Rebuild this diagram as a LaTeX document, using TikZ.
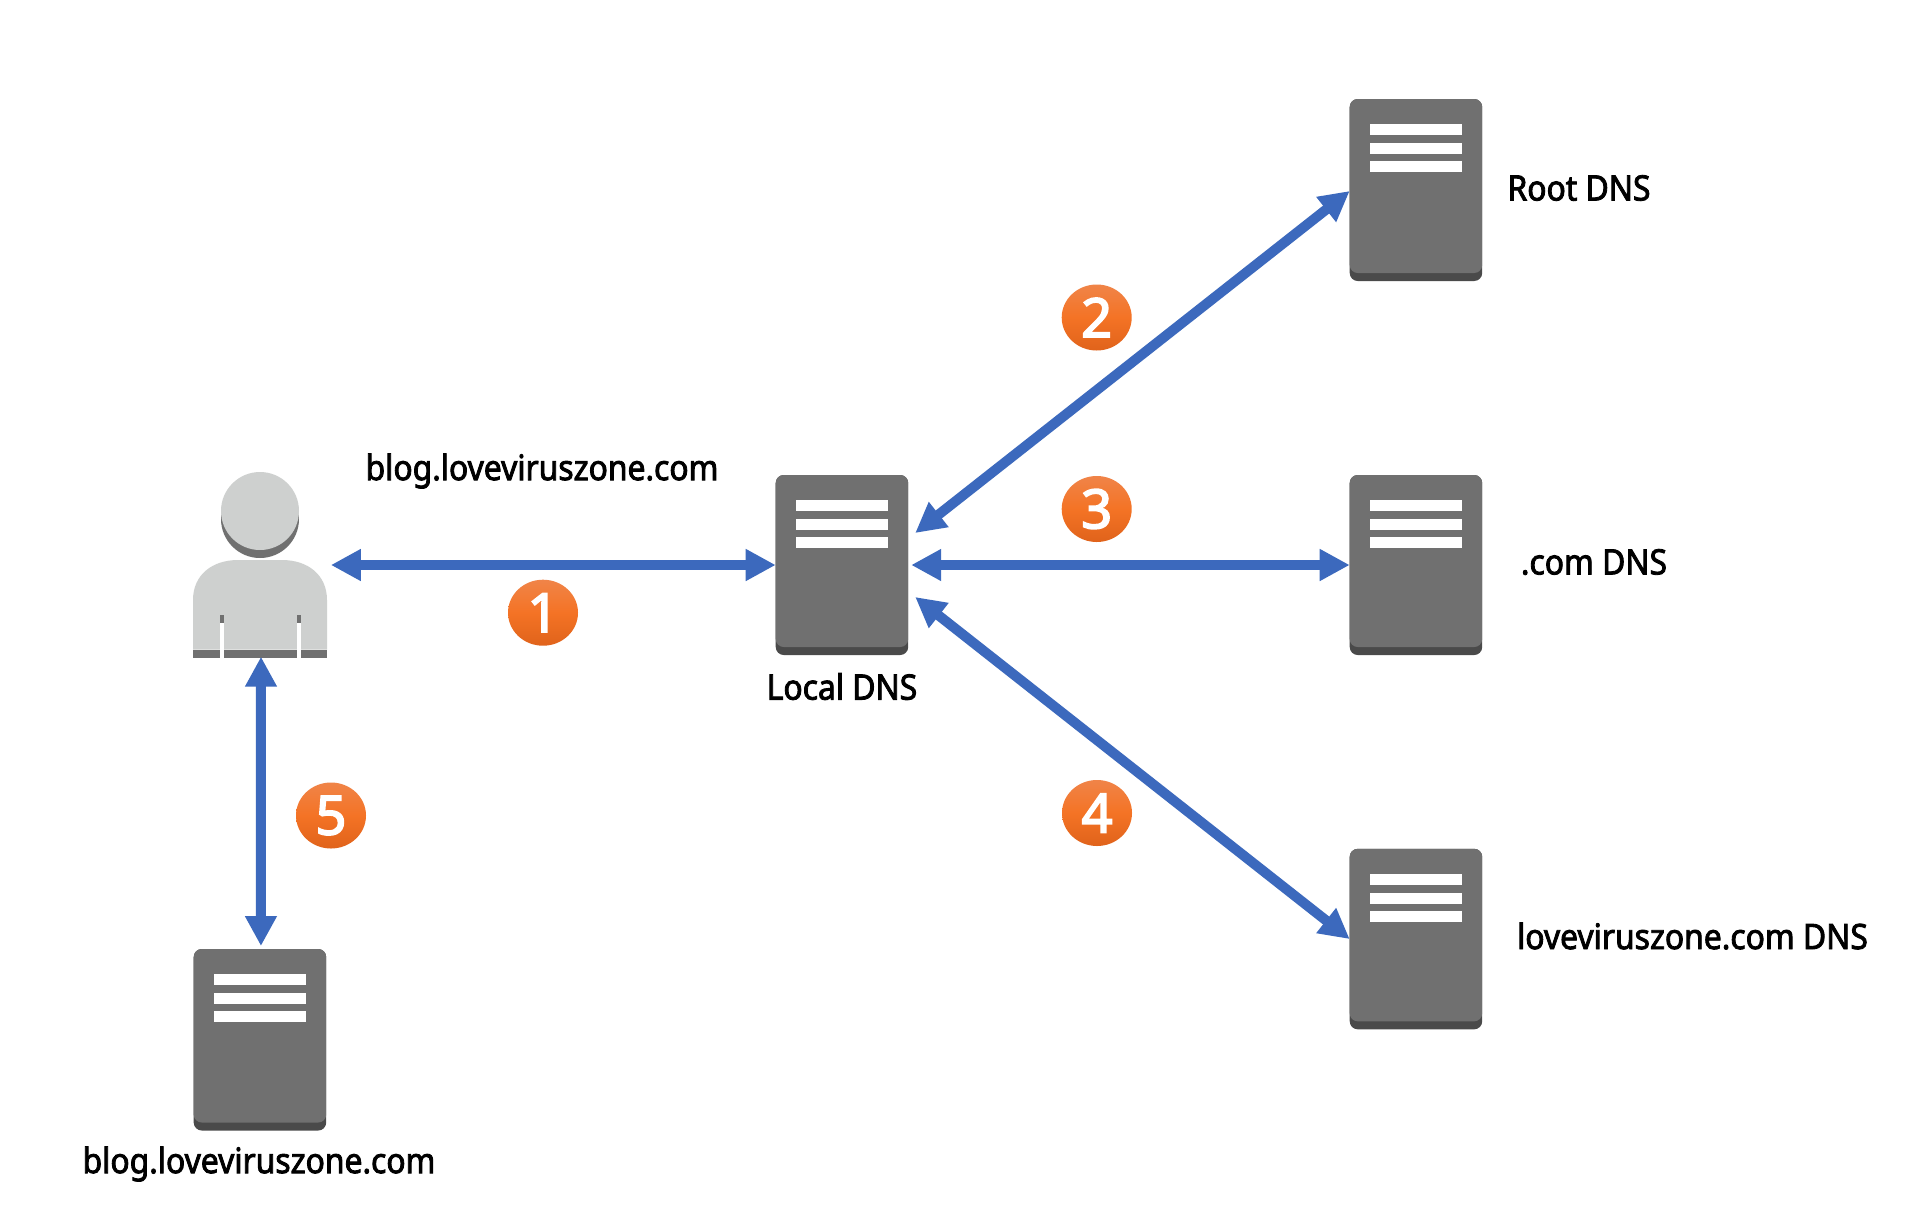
\documentclass[tikz,border=0pt]{standalone}
\usepackage{fontspec}
\setmainfont[FakeStretch=0.91,FakeBold=2.4]{Noto Sans}
\newfontfamily\digitfont[FakeBold=3.2]{Noto Sans}
\usetikzlibrary{arrows.meta,shapes.geometric}
\definecolor{srv}{HTML}{707070}
\definecolor{srvdark}{HTML}{4A4A4A}
\definecolor{pers}{HTML}{CED0CF}
\definecolor{link}{HTML}{3C69BD}
\definecolor{badgetop}{HTML}{F08448}
\definecolor{badgemid}{HTML}{F47325}
\definecolor{badgebot}{HTML}{E0631B}
\tikzset{
  serverbody/.style={draw=none,fill=srvdark,rounded corners=8pt,minimum width=132.5pt,inner sep=0pt,outer sep=0pt},
  link/.style={draw=link,line width=10pt,{Triangle[length=30pt,width=30pt]}-{Triangle[length=30pt,width=30pt]}},
  badge/.style={ellipse,minimum width=70pt,minimum height=66pt,inner sep=0pt,text=white,font=\digitfont\fontsize{54}{60}\selectfont,top color=badgetop,bottom color=badgebot,middle color=badgemid,shading angle=0},
  lab/.style={text=black,inner sep=0pt,font=\fontsize{35}{40}\selectfont}
}
\newcommand{\serverbox}[4]{%
  \node[serverbody,minimum height=#4pt,anchor=north west] (#1) at (#2,#3) {};
  \fill[srv,rounded corners=8pt] (#2,#3) rectangle ++(132.5,#4-8);
  \foreach \dy in {25.3,44.3,62.3}{\fill[white] (#2+20.4,#3+\dy) rectangle ++(91.7,11);}
}
\begin{document}
\begin{tikzpicture}[x=1pt,y=-1pt]
\useasboundingbox (0,0) rectangle (1916,1224);
\fill[white] (0,0) rectangle (1916,1224);
% person
\fill[srv] (260,519) circle (39);
\fill[pers] (260,511) circle (39);
\fill[pers] (193,649.5) -- (193,600) .. controls (193,575) and (212,560) .. (238,560) -- (282,560) .. controls (308,560) and (327,575) .. (327,600) -- (327,649.5) -- cycle;
\fill[srv] (193,649.5) rectangle (327,658);
\fill[srv] (219.7,614.7) rectangle (224,623);
\fill[srv] (297,614.7) rectangle (301.3,623);
\fill[white] (219.7,623) rectangle (224,658);
\fill[white] (297,623) rectangle (301.3,658);
\node[inner sep=0pt,minimum width=134pt,minimum height=186pt] (user) at (260,565) {};
% servers
\serverbox{root}{1349.7}{99}{182}
\serverbox{local}{775.7}{475}{180}
\serverbox{com}{1349.7}{475}{180}
\serverbox{lvz}{1349.7}{848.8}{180.5}
\serverbox{blog}{193.7}{949}{181.5}
% links
\draw[link] ([xshift=3.7pt]user.east) -- (local.west);
\draw[link] ([xshift=3pt]local.east) -- (com.west);
\draw[link] ([shift={(7,-32)}]local.east) -- ([shift={(0,1)}]root.west);
\draw[link] ([shift={(7,32)}]local.east) -- (lvz.west);
\draw[link] ([shift={(1,-1.5)}]user.south) -- ([shift={(1,-3)}]blog.north);
% badges
\node[badge] (b1) at (543,612.7) {1};
\node[badge] (b2) at (1096.7,317.5) {2};
\node[badge] (b3) at (1096.7,509) {3};
\node[badge] (b4) at (1097,813) {4};
\node[badge] (b5) at (331,815.5) {5};
% labels
\node[lab] (l1) at (542,471) {blog.loveviruszone.com};
\node[lab] (l2) at (842,686.5) {Local DNS};
\node[lab] (l3) at (1579,188) {Root DNS};
\node[lab] (l4) at (1594,562) {.com DNS};
\node[lab] (l5) at (1692.5,936) {loveviruszone.com DNS};
\node[lab] (l6) at (259,1164) {blog.loveviruszone.com};
\end{tikzpicture}
\end{document}
